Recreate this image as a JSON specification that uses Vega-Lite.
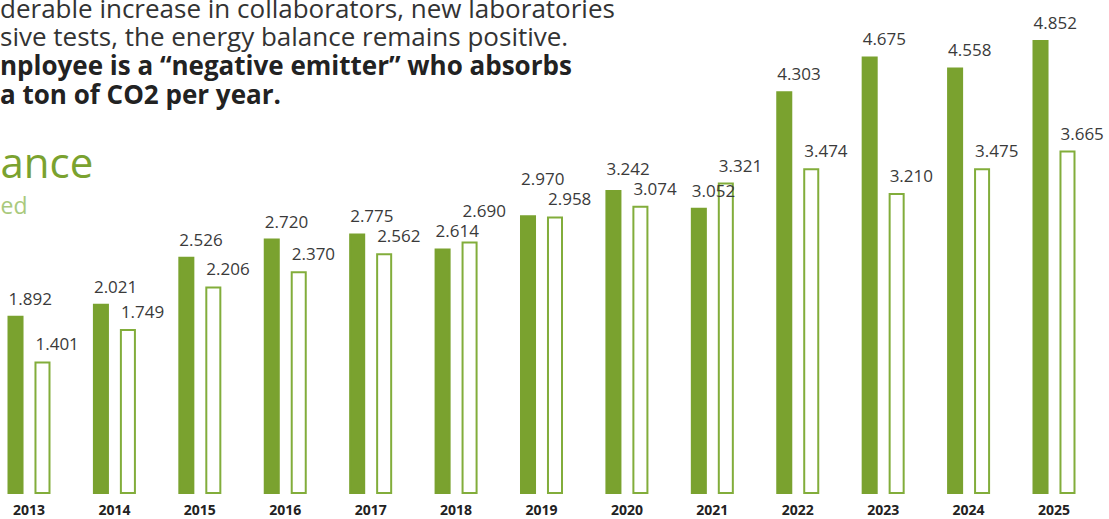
{
  "$schema": "https://vega.github.io/schema/vega-lite/v6.json",
  "width": 1083,
  "height": 493,
  "autosize": {"type": "none"},
  "padding": {"left": 0, "top": 0, "right": 26, "bottom": 26},
  "background": "white",
  "config": {"font": "Open Sans", "view": {"stroke": null}},
  "title": {
    "text": ["derable increase in collaborators, new laboratories", "sive tests, the energy balance remains positive."],
    "subtitle": ["nployee is a “negative emitter” who absorbs", "a ton of CO2 per year."],
    "anchor": "start",
    "frame": "group",
    "orient": "top",
    "offset": 0,
    "dy": 109,
    "font": "Open Sans",
    "fontSize": 26,
    "fontWeight": "normal",
    "color": "#333333",
    "lineHeight": 28,
    "subtitleFont": "Open Sans",
    "subtitleFontSize": 26,
    "subtitleFontWeight": "bold",
    "subtitleColor": "#222222",
    "subtitleLineHeight": 29,
    "subtitlePadding": 3
  },
  "data": {
    "values": [
      {"year": "2013", "series": "filled", "value": 1.892},
      {"year": "2013", "series": "outline", "value": 1.401},
      {"year": "2014", "series": "filled", "value": 2.021},
      {"year": "2014", "series": "outline", "value": 1.749},
      {"year": "2015", "series": "filled", "value": 2.526},
      {"year": "2015", "series": "outline", "value": 2.206},
      {"year": "2016", "series": "filled", "value": 2.720},
      {"year": "2016", "series": "outline", "value": 2.370},
      {"year": "2017", "series": "filled", "value": 2.775},
      {"year": "2017", "series": "outline", "value": 2.562},
      {"year": "2018", "series": "filled", "value": 2.614},
      {"year": "2018", "series": "outline", "value": 2.690},
      {"year": "2019", "series": "filled", "value": 2.970},
      {"year": "2019", "series": "outline", "value": 2.958},
      {"year": "2020", "series": "filled", "value": 3.242},
      {"year": "2020", "series": "outline", "value": 3.074},
      {"year": "2021", "series": "filled", "value": 3.052},
      {"year": "2021", "series": "outline", "value": 3.321},
      {"year": "2022", "series": "filled", "value": 4.303},
      {"year": "2022", "series": "outline", "value": 3.474},
      {"year": "2023", "series": "filled", "value": 4.675},
      {"year": "2023", "series": "outline", "value": 3.210},
      {"year": "2024", "series": "filled", "value": 4.558},
      {"year": "2024", "series": "outline", "value": 3.475},
      {"year": "2025", "series": "filled", "value": 4.852},
      {"year": "2025", "series": "outline", "value": 3.665}
    ]
  },
  "transform": [
    {"window": [{"op": "rank", "as": "r"}], "groupby": ["year"], "sort": [{"field": "value", "order": "descending"}]},
    {"joinaggregate": [{"op": "stdev", "field": "value", "as": "spread"}], "groupby": ["year"]}
  ],
  "encoding": {
    "x": {
      "field": "year",
      "type": "ordinal",
      "scale": {"paddingInner": 0.52, "paddingOuter": 0.0995},
      "axis": {
        "domain": false,
        "ticks": false,
        "labelAngle": 0,
        "labelFont": "Open Sans",
        "labelFontSize": 14,
        "labelFontWeight": "bold",
        "labelColor": "#222222",
        "labelPadding": 10,
        "title": "ed",
        "titleX": 0,
        "titleY": -280,
        "titleAlign": "left",
        "titleAnchor": "start",
        "titleBaseline": "alphabetic",
        "titleAngle": 0,
        "titleFont": "Open Sans",
        "titleFontSize": 23,
        "titleFontWeight": "normal",
        "titleColor": "#a9c97c"
      }
    },
    "xOffset": {
      "field": "series",
      "type": "nominal",
      "sort": ["filled", "outline"],
      "scale": {"paddingInner": 0.48, "paddingOuter": 0}
    },
    "y": {
      "field": "value",
      "type": "quantitative",
      "scale": {"domain": [0, 5.292], "nice": false},
      "axis": {
        "domain": false,
        "ticks": false,
        "labels": false,
        "grid": false,
        "title": "ance",
        "titleX": 0,
        "titleY": 177,
        "titleAlign": "left",
        "titleAnchor": "start",
        "titleBaseline": "alphabetic",
        "titleAngle": 0,
        "titleFont": "Open Sans",
        "titleFontSize": 42,
        "titleFontWeight": "normal",
        "titleColor": "#7aa22f"
      }
    }
  },
  "layer": [
    {
      "mark": {"type": "bar", "strokeWidth": 2},
      "encoding": {
        "fill": {
          "field": "series",
          "type": "nominal",
          "scale": {"domain": ["filled", "outline"], "range": ["#7aa22f", "#ffffff"]},
          "legend": null
        },
        "stroke": {
          "field": "series",
          "type": "nominal",
          "scale": {"domain": ["filled", "outline"], "range": ["#7aa22f", "#82ad3b"]},
          "legend": null
        }
      }
    },
    {
      "transform": [{"filter": "datum.r == 1"}],
      "mark": {
        "type": "text",
        "align": "left",
        "baseline": "alphabetic",
        "dx": -7,
        "dy": -12,
        "theta": 0,
        "font": "Open Sans",
        "fontSize": 17,
        "color": "#3a3a3a"
      },
      "encoding": {
        "text": {"field": "value", "type": "quantitative", "format": ".3f"},
        "radius": {
          "field": "spread",
          "type": "quantitative",
          "scale": {"type": "linear", "domain": [0, 0.152], "range": [20, 0], "clamp": true, "zero": false}
        }
      }
    },
    {
      "transform": [{"filter": "datum.r != 1"}],
      "mark": {
        "type": "text",
        "align": "left",
        "baseline": "alphabetic",
        "dx": -7,
        "dy": -12,
        "font": "Open Sans",
        "fontSize": 17,
        "color": "#3a3a3a"
      },
      "encoding": {
        "text": {"field": "value", "type": "quantitative", "format": ".3f"}
      }
    }
  ]
}
